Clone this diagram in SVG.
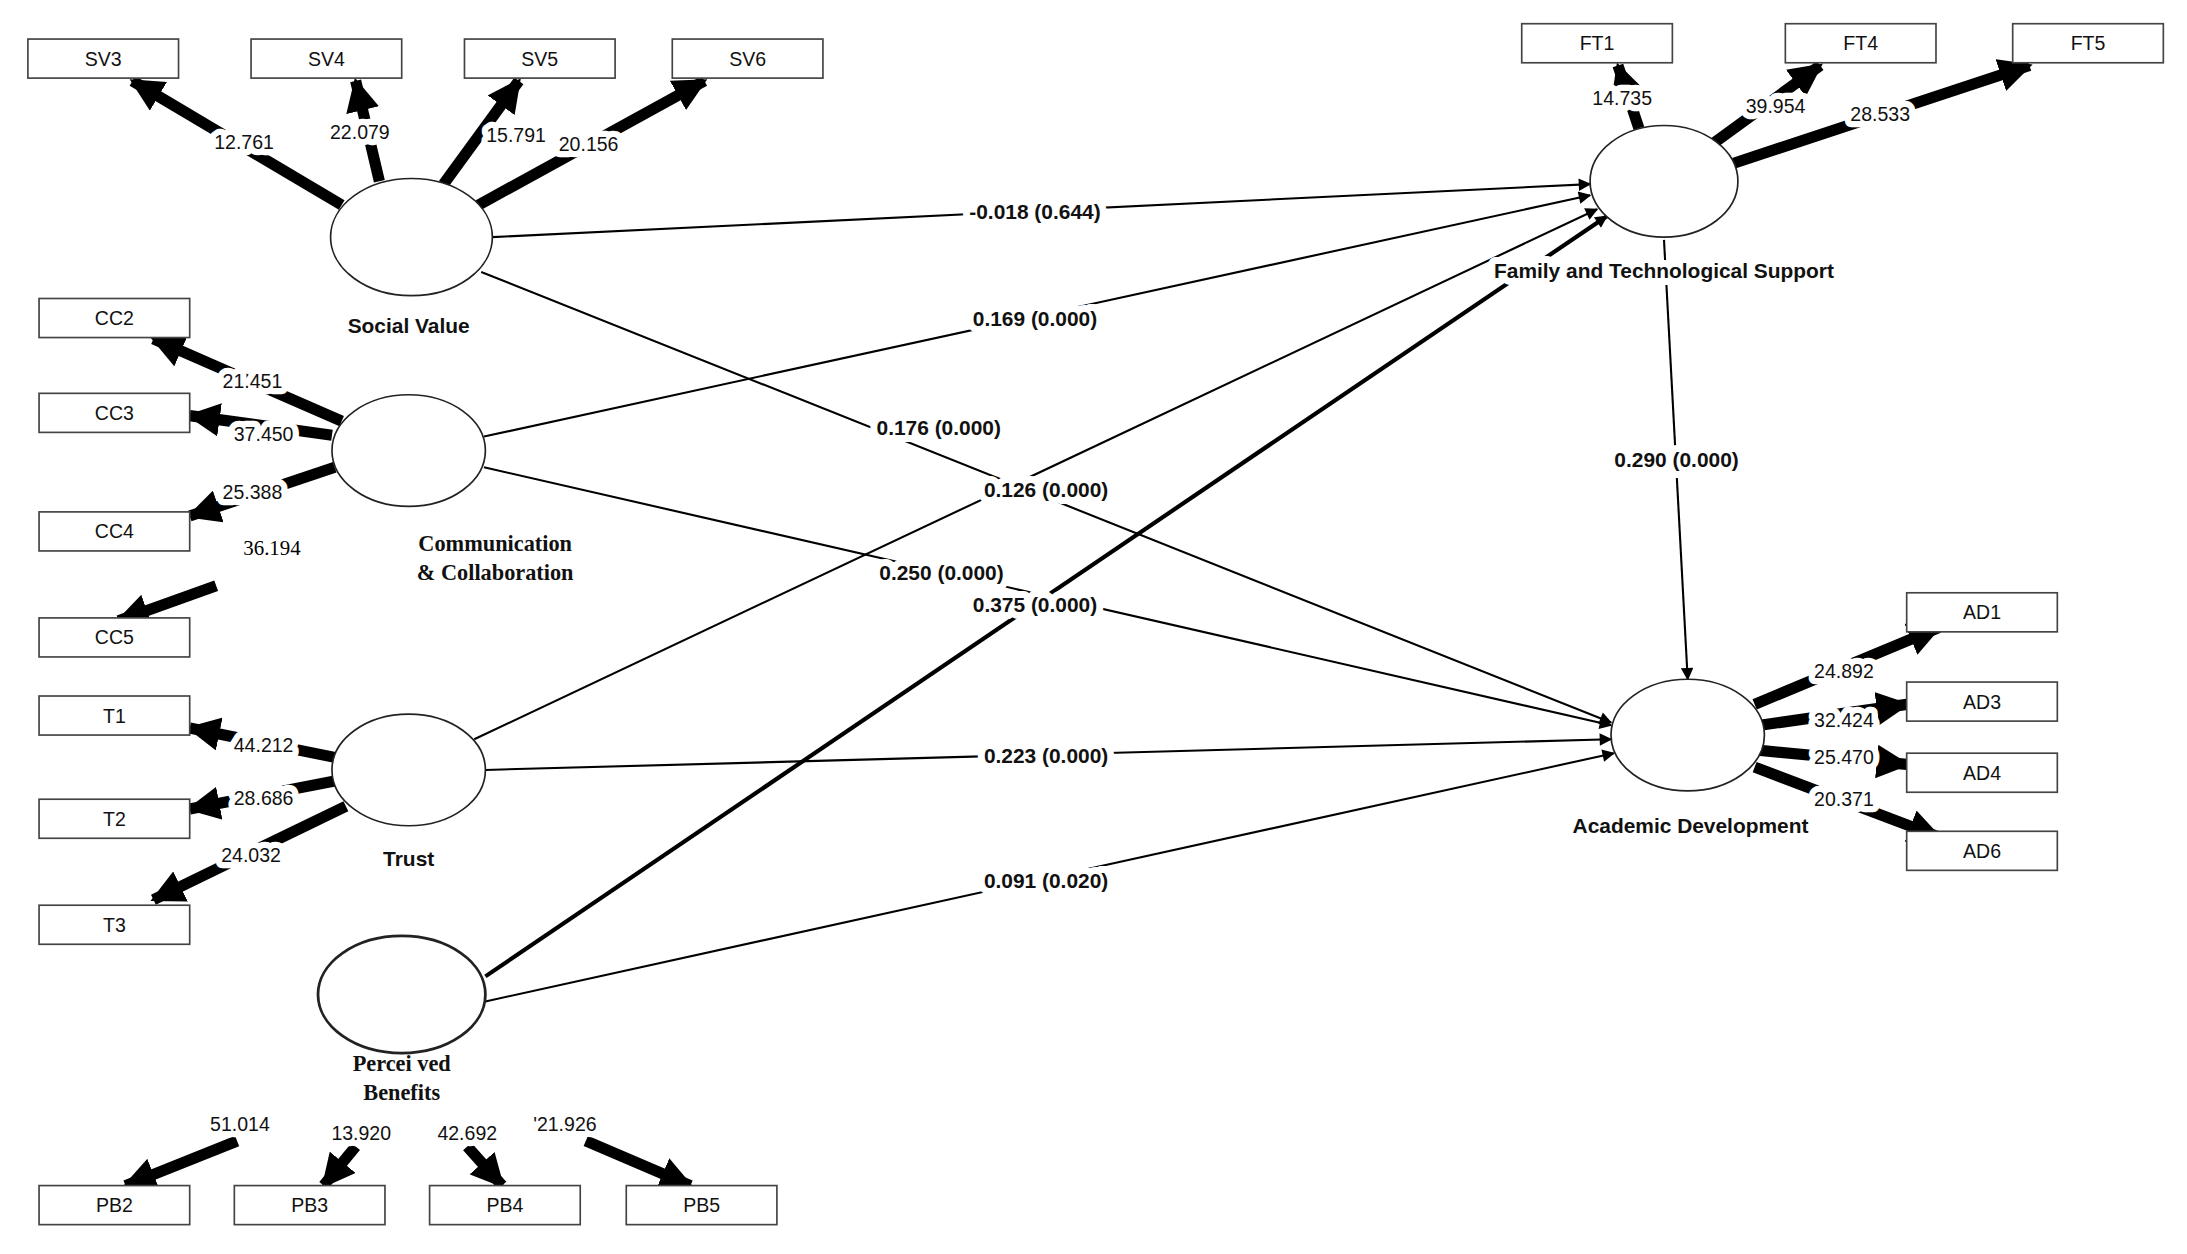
<svg xmlns="http://www.w3.org/2000/svg" width="2187" height="1254" viewBox="0 0 2187 1254">
<style>
.b{fill:#fff;stroke:#444;stroke-width:1.2}
.c{fill:#fff;stroke:#222;stroke-width:1.2}
.t{font-family:"Liberation Sans",Arial,sans-serif;font-size:14px;fill:#111;text-anchor:middle;stroke:#fff;stroke-width:9;paint-order:stroke;stroke-linejoin:round}
.bt{font-family:"Liberation Sans",Arial,sans-serif;font-size:15px;font-weight:bold;fill:#111;text-anchor:middle;stroke:#fff;stroke-width:10;paint-order:stroke;stroke-linejoin:round}
.st{font-family:"Liberation Serif","Times New Roman",serif;font-size:16px;font-weight:bold;fill:#111;text-anchor:middle}
.th{stroke:#000;stroke-width:8;marker-end:url(#ah)}
.tn{stroke:#000;stroke-width:1.5;fill:none;marker-end:url(#as)}
</style>
<defs>
<marker id="ah" viewBox="0 0 10 10" refX="9" refY="5" markerWidth="3" markerHeight="3" orient="auto"><path d="M0,0L10,5L0,10z"/></marker>
<marker id="as" viewBox="0 0 10 10" refX="9" refY="5" markerWidth="12" markerHeight="9" markerUnits="userSpaceOnUse" orient="auto"><path d="M0,0L10,5L0,10z"/></marker>
</defs>
<rect width="2187" height="1254" fill="#fff"/>
<g transform="scale(1.3948)">
<g id="connectors">
<line class="th" x1="245" y1="147" x2="95" y2="58"/>
<line class="th" x1="272" y1="130" x2="255" y2="58"/>
<line class="th" x1="318" y1="132" x2="372" y2="58"/>
<line class="th" x1="343" y1="147" x2="505" y2="58"/>
<line class="th" x1="1175" y1="92" x2="1160" y2="47"/>
<line class="th" x1="1228" y1="103" x2="1305" y2="47"/>
<line class="th" x1="1243" y1="117" x2="1455" y2="47"/>
<line class="th" x1="245" y1="302" x2="110" y2="243"/>
<line class="th" x1="238" y1="312" x2="136" y2="298"/>
<line class="th" x1="240" y1="335" x2="136" y2="370"/>
<line class="th" x1="155" y1="420" x2="85" y2="445"/>
<line class="th" x1="240" y1="543" x2="136" y2="522"/>
<line class="th" x1="240" y1="560" x2="136" y2="580"/>
<line class="th" x1="248" y1="578" x2="110" y2="645"/>
<line class="th" x1="170" y1="818" x2="90" y2="850"/>
<line class="th" x1="255" y1="822" x2="232" y2="850"/>
<line class="th" x1="335" y1="822" x2="360" y2="850"/>
<line class="th" x1="420" y1="818" x2="495" y2="850"/>
<line class="th" x1="1258" y1="505" x2="1390" y2="450"/>
<line class="th" x1="1262" y1="520" x2="1367" y2="505"/>
<line class="th" x1="1262" y1="538" x2="1367" y2="548"/>
<line class="th" x1="1258" y1="550" x2="1390" y2="600"/>
<line class="tn" x1="353" y1="170" x2="1140" y2="132"/>
<line class="tn" x1="345" y1="195" x2="1155" y2="518"/>
<line class="tn" x1="347" y1="313" x2="1140" y2="140"/>
<line class="tn" x1="347" y1="335" x2="1155" y2="520"/>
<line class="tn" x1="340" y1="530" x2="1145" y2="150"/>
<line class="tn" x1="348" y1="552" x2="1155" y2="530"/>
<line class="tn" x1="348" y1="700" x2="1152" y2="155" style="stroke-width:3"/>
<line class="tn" x1="348" y1="718" x2="1157" y2="540"/>
<line class="tn" x1="1193" y1="172" x2="1210" y2="487"/>
</g>
<g id="labels">
<text class="bt" x="742" y="157">-0.018 (0.644)</text>
<text class="bt" x="742" y="234">0.169 (0.000)</text>
<text class="bt" x="673" y="312">0.176 (0.000)</text>
<text class="bt" x="750" y="356">0.126 (0.000)</text>
<text class="bt" x="675" y="416">0.250 (0.000)</text>
<text class="bt" x="742" y="439">0.375 (0.000)</text>
<text class="bt" x="750" y="547">0.223 (0.000)</text>
<text class="bt" x="750" y="637">0.091 (0.020)</text>
<text class="bt" x="1202" y="335">0.290 (0.000)</text>
<text class="t" x="175" y="107">12.761</text>
<text class="t" x="258" y="100">22.079</text>
<text class="t" x="370" y="102">15.791</text>
<text class="t" x="422" y="108">20.156</text>
<text class="t" x="1163" y="75">14.735</text>
<text class="t" x="1273" y="81">39.954</text>
<text class="t" x="1348" y="87">28.533</text>
<text class="t" x="181" y="278">21.451</text>
<text class="t" x="189" y="316">37.450</text>
<text class="t" x="181" y="358">25.388</text>
<text x="195" y="398" style="font-family:'Liberation Serif',serif;font-size:15px;text-anchor:middle">36.194</text>
<text class="t" x="189" y="539">44.212</text>
<text class="t" x="189" y="577">28.686</text>
<text class="t" x="180" y="618">24.032</text>
<text class="t" x="172" y="811">51.014</text>
<text class="t" x="259" y="817">13.920</text>
<text class="t" x="335" y="817">42.692</text>
<text class="t" x="405" y="811">'21.926</text>
<text class="t" x="1322" y="486">24.892</text>
<text class="t" x="1322" y="521">32.424</text>
<text class="t" x="1322" y="548">25.470</text>
<text class="t" x="1322" y="578">20.371</text>
</g>
<g id="SV"><ellipse class="c" cx="295" cy="170" rx="58" ry="42"/><text class="bt" x="293" y="239">Social Value</text></g>
<g id="CC"><ellipse class="c" cx="293" cy="323" rx="55" ry="40"/><text class="st" x="355" y="395">Communication</text><text class="st" x="355" y="416">&amp; Collaboration</text></g>
<g id="T"><ellipse class="c" cx="293" cy="552" rx="55" ry="40"/><text class="bt" x="293" y="621">Trust</text></g>
<g id="PB"><ellipse class="c" cx="288" cy="713" rx="60" ry="42" style="stroke-width:2"/><text class="st" x="288" y="768">Percei ved</text><text class="st" x="288" y="789">Benefits</text></g>
<g id="FTS"><ellipse class="c" cx="1193" cy="130" rx="53" ry="40"/><text class="bt" x="1193" y="199">Family and Technological Support</text></g>
<g id="AD"><ellipse class="c" cx="1210" cy="527" rx="55" ry="40"/><text class="bt" x="1212" y="597">Academic Development</text></g>
<g id="indicators">
<rect class="b" x="20" y="28" width="108" height="28"/><text class="t" x="74" y="47">SV3</text>
<rect class="b" x="180" y="28" width="108" height="28"/><text class="t" x="234" y="47">SV4</text>
<rect class="b" x="333" y="28" width="108" height="28"/><text class="t" x="387" y="47">SV5</text>
<rect class="b" x="482" y="28" width="108" height="28"/><text class="t" x="536" y="47">SV6</text>
<rect class="b" x="1091" y="17" width="108" height="28"/><text class="t" x="1145" y="36">FT1</text>
<rect class="b" x="1280" y="17" width="108" height="28"/><text class="t" x="1334" y="36">FT4</text>
<rect class="b" x="1443" y="17" width="108" height="28"/><text class="t" x="1497" y="36">FT5</text>
<rect class="b" x="28" y="214" width="108" height="28"/><text class="t" x="82" y="233">CC2</text>
<rect class="b" x="28" y="282" width="108" height="28"/><text class="t" x="82" y="301">CC3</text>
<rect class="b" x="28" y="367" width="108" height="28"/><text class="t" x="82" y="386">CC4</text>
<rect class="b" x="28" y="443" width="108" height="28"/><text class="t" x="82" y="462">CC5</text>
<rect class="b" x="28" y="499" width="108" height="28"/><text class="t" x="82" y="518">T1</text>
<rect class="b" x="28" y="573" width="108" height="28"/><text class="t" x="82" y="592">T2</text>
<rect class="b" x="28" y="649" width="108" height="28"/><text class="t" x="82" y="668">T3</text>
<rect class="b" x="28" y="850" width="108" height="28"/><text class="t" x="82" y="869">PB2</text>
<rect class="b" x="168" y="850" width="108" height="28"/><text class="t" x="222" y="869">PB3</text>
<rect class="b" x="308" y="850" width="108" height="28"/><text class="t" x="362" y="869">PB4</text>
<rect class="b" x="449" y="850" width="108" height="28"/><text class="t" x="503" y="869">PB5</text>
<rect class="b" x="1367" y="425" width="108" height="28"/><text class="t" x="1421" y="444">AD1</text>
<rect class="b" x="1367" y="489" width="108" height="28"/><text class="t" x="1421" y="508">AD3</text>
<rect class="b" x="1367" y="540" width="108" height="28"/><text class="t" x="1421" y="559">AD4</text>
<rect class="b" x="1367" y="596" width="108" height="28"/><text class="t" x="1421" y="615">AD6</text>
</g>
</g>
</svg>
